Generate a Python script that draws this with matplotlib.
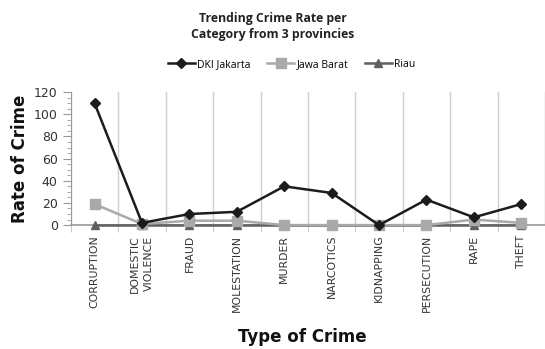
import numpy as np
import matplotlib.pyplot as plt
from matplotlib.ticker import MultipleLocator

# ---- data ----
categories = ['CORRUPTION', 'DOMESTIC\nVIOLENCE', 'FRAUD', 'MOLESTATION', 'MURDER',
              'NARCOTICS', 'KIDNAPPING', 'PERSECUTION', 'RAPE', 'THEFT']
dki_jakarta = [110, 2, 10, 12, 35, 29, 0, 23, 7, 19]
jawa_barat = [19, 1, 4, 4, 0, 0, 0, 0, 5, 2]
riau = [0, 0, 0, 0, 0, 0, 0, 0, 0, 0]

x = np.arange(len(categories))

fig = plt.figure(figsize=(5.45, 3.49), dpi=100)
ax = fig.add_axes([0.130, 0.355, 0.870, 0.381])

ax.plot(x, riau, '^-', color='#5f5f5f', lw=1.8, ms=6, clip_on=False, zorder=3, label='Riau')
ax.plot(x, jawa_barat, 's-', color='#a9a9a9', lw=1.8, ms=6.5, clip_on=False, zorder=4, label='Jawa Barat')
ax.plot(x, dki_jakarta, 'D-', color='#1c1c1c', lw=1.8, ms=5, clip_on=False, zorder=5, label='DKI Jakarta')

ax.set_xlim(-0.5, 9.35)
ax.set_ylim(0, 120)

# category labels and boundary gridlines
ax.set_xticks(x)
ax.set_xticklabels(categories, rotation=90, fontsize=7.8, color='#333333', linespacing=1.45)
ax.tick_params(axis='x', which='major', length=0, pad=7)
ax.set_xticks(np.arange(-0.5, 10, 1), minor=True)
ax.tick_params(axis='x', which='minor', length=5, color='#bfbfbf')
ax.grid(True, which='minor', axis='x', color='#d0d0d0', lw=1)

ax.yaxis.set_major_locator(MultipleLocator(20))
ax.yaxis.set_minor_locator(MultipleLocator(5))
ax.tick_params(axis='y', which='major', length=6, color='#9a9a9a', labelsize=9, labelcolor='#333333')
ax.tick_params(axis='y', which='minor', length=3, color='#9a9a9a')

for side in ['top', 'right']:
    ax.spines[side].set_visible(False)
ax.spines['left'].set_color('#9a9a9a')
ax.spines['bottom'].set_color('#9a9a9a')
ax.spines['bottom'].set_linewidth(1.2)

fig.text(0.5, 0.925, 'Trending Crime Rate per\nCategory from 3 provincies', ha='center', va='center',
         fontsize=8.8, fontweight='bold', family='Open Sans', color='#222222', linespacing=1.3)

handles, labels = ax.get_legend_handles_labels()
order = [2, 1, 0]
fig.legend([handles[i] for i in order], [labels[i] for i in order], loc='center',
           bbox_to_anchor=(0.535, 0.815), ncol=3, frameon=False,
           handlelength=2.6, columnspacing=1.6, handletextpad=0.2,
           prop={'family': 'Open Sans', 'size': 7.5})

fig.text(0.037, 0.544, 'Rate of Crime', rotation=90, ha='center', va='center',
         fontsize=12, fontweight='bold', color='#111111')
fig.text(0.555, 0.035, 'Type of Crime', ha='center', va='center',
         fontsize=12, fontweight='bold', color='#111111')

fig.savefig('out.png', dpi=100)
